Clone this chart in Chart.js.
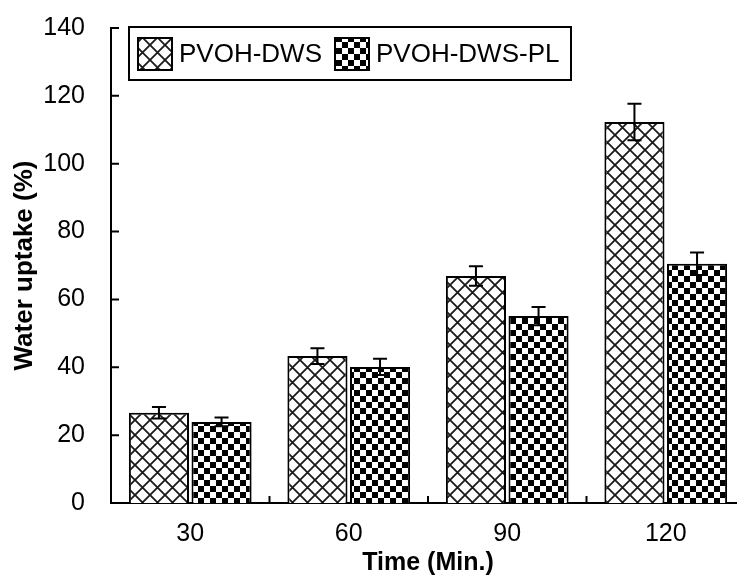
<!DOCTYPE html>
<html>
<head>
<meta charset="utf-8">
<script src="https://cdn.jsdelivr.net/npm/chart.js@4"></script>
<style>
  html, body { margin: 0; padding: 0; background: #fff; overflow: hidden; }
  #wrap { width: 760px; height: 578px; }
</style>
</head>
<body>
<div id="wrap"><canvas id="grafico"></canvas></div>
<script>
// data
var tiempos = ['30', '60', '90', '120'];
var dws = [26.6, 43.3, 66.9, 112.3];
var dwsErr = [1.7, 2.3, 2.9, 5.4];
var dwsPl = [23.9, 40.1, 55.1, 70.5];
var dwsPlErr = [1.3, 2.4, 2.7, 3.3];
var nombres = ['PVOH-DWS', 'PVOH-DWS-PL'];

var fuente = "'Liberation Sans', Arial, sans-serif";

function rejilla() {
    var c = document.createElement('canvas');
    c.width = 15; c.height = 15;
    var g = c.getContext('2d');
    g.fillStyle = '#fff';
    g.fillRect(0, 0, 15, 15);
    g.strokeStyle = '#1a1a1a';
    g.lineWidth = 1.8;
    g.beginPath();
    g.moveTo(-2, -2); g.lineTo(17, 17);
    g.moveTo(17, -2); g.lineTo(-2, 17);
    g.stroke();
    return g.createPattern(c, 'repeat');
}

function tablero() {
    var c = document.createElement('canvas');
    c.width = 12; c.height = 12;
    var g = c.getContext('2d');
    g.fillStyle = '#fff';
    g.fillRect(0, 0, 12, 12);
    g.fillStyle = '#000';
    g.fillRect(0, 0, 6, 6);
    g.fillRect(6, 6, 6, 6);
    return g.createPattern(c, 'repeat');
}

var patrones = [rejilla(), tablero()];
var errores = [dwsErr, dwsPlErr];

// error bars
var barrasError = {
    id: 'barrasError',
    afterDatasetsDraw: function (chart) {
        var ctx = chart.ctx, y = chart.scales.y;
        ctx.save();
        ctx.strokeStyle = '#000';
        ctx.lineWidth = 2;
        chart.data.datasets.forEach(function (ds, i) {
            var meta = chart.getDatasetMeta(i);
            meta.data.forEach(function (bar, j) {
                var v = ds.data[j], e = errores[i][j];
                var top = y.getPixelForValue(v + e), bot = y.getPixelForValue(v - e);
                ctx.beginPath();
                ctx.moveTo(bar.x, top); ctx.lineTo(bar.x, bot);
                ctx.moveTo(bar.x - 7, top); ctx.lineTo(bar.x + 7, top);
                ctx.moveTo(bar.x - 7, bot); ctx.lineTo(bar.x + 7, bot);
                ctx.stroke();
            });
        });
        ctx.restore();
    }
};

// inward ticks + legend box
var marcas = {
    id: 'marcas',
    afterDraw: function (chart) {
        var ctx = chart.ctx, a = chart.chartArea;
        var x = chart.scales.x, y = chart.scales.y;
        ctx.save();
        ctx.strokeStyle = '#000';
        ctx.lineWidth = 2;
        ctx.beginPath();
        y.ticks.forEach(function (t) {
            var py = y.getPixelForValue(t.value);
            if (t.value === 0) return;
            ctx.moveTo(a.left, py); ctx.lineTo(a.left + 8, py);
        });
        for (var i = 1; i < tiempos.length; i++) {
            var px = (x.getPixelForValue(i - 1) + x.getPixelForValue(i)) / 2;
            ctx.moveTo(px, a.bottom); ctx.lineTo(px, a.bottom - 7);
        }
        ctx.stroke();

        // legend
        var lx = a.left + 18, ly = a.top - 1;
        ctx.lineWidth = 2;
        ctx.strokeRect(lx, ly, 442, 53);
        ctx.font = '26px ' + fuente;
        ctx.textBaseline = 'middle';
        ctx.fillStyle = '#000';
        var cx = lx + 9;
        chart.data.datasets.forEach(function (ds, i) {
            ctx.fillStyle = ds.backgroundColor;
            ctx.fillRect(cx, ly + 11, 34, 32);
            ctx.strokeRect(cx, ly + 11, 34, 32);
            ctx.fillStyle = '#000';
            ctx.fillText(ds.label, cx + 41, ly + 28);
            cx += 41 + ctx.measureText(ds.label).width + 13;
        });
        ctx.restore();
    }
};

new Chart(document.getElementById('grafico'), {
    type: 'bar',
    data: {
        labels: tiempos,
        datasets: [
            {
                label: nombres[0],
                data: dws,
                backgroundColor: patrones[0],
                borderColor: '#000',
                borderWidth: 2
            },
            {
                label: nombres[1],
                data: dwsPl,
                backgroundColor: patrones[1],
                borderColor: '#000',
                borderWidth: 2
            }
        ]
    },
    options: {
        responsive: true,
        maintainAspectRatio: false,
        animation: false,
        devicePixelRatio: 1,
        layout: { padding: { left: 0, right: 15, top: 28, bottom: 0 } },
        datasets: { bar: { categoryPercentage: 0.79, barPercentage: 0.96 } },
        plugins: {
            legend: { display: false },
            tooltip: { enabled: false }
        },
        scales: {
            x: {
                grid: { display: false, drawTicks: false },
                border: { display: true, color: '#000', width: 2 },
                ticks: { color: '#000', font: { family: fuente, size: 25 }, padding: 16 },
                title: {
                    display: true,
                    text: 'Time (Min.)',
                    color: '#000',
                    font: { family: fuente, size: 25, weight: 'bold' },
                    padding: { top: 0, bottom: 0 }
                },
                afterFit: function (s) { s.height = 75; }
            },
            y: {
                min: 0,
                max: 140,
                ticks: { stepSize: 20, color: '#000', font: { family: fuente, size: 25 }, padding: 26 },
                grid: { display: false, drawTicks: false },
                border: { display: true, color: '#000', width: 2 },
                title: {
                    display: true,
                    text: 'Water uptake (%)',
                    color: '#000',
                    font: { family: fuente, size: 26, weight: 'bold' },
                    padding: { top: 9, bottom: 0 }
                },
                afterFit: function (s) { s.width = 111; s.paddingTop = 0; s.paddingBottom = 0; }
            }
        }
    },
    plugins: [barrasError, marcas]
});
</script>
</body>
</html>
